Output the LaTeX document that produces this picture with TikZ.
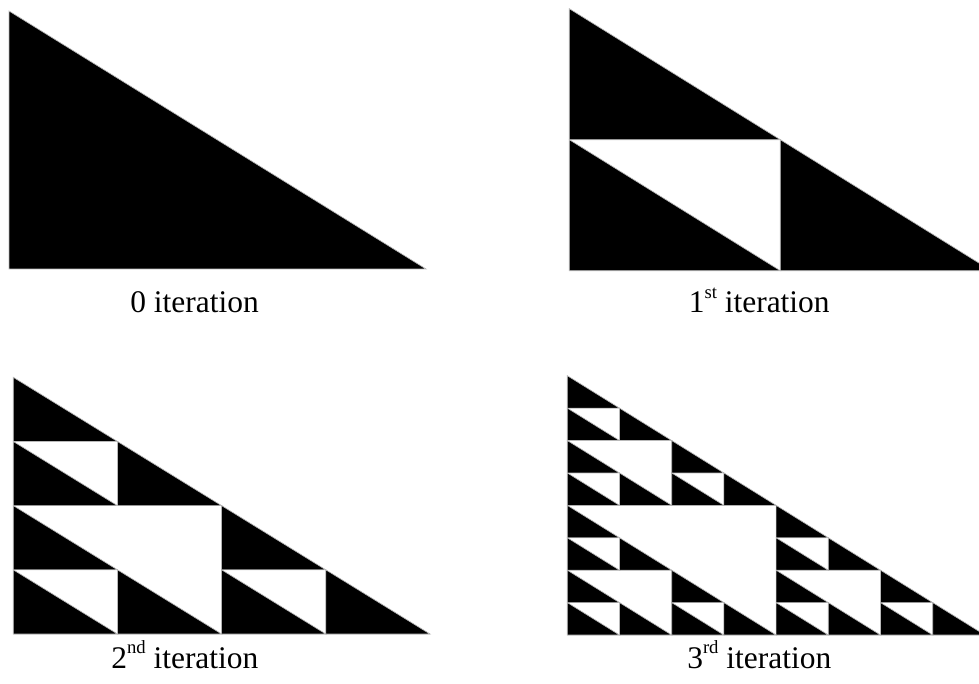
\documentclass[tikz,border=0pt]{standalone}
\usepackage{fontspec}
\setmainfont{Liberation Serif}

\newcommand\ordsup[1]{\raisebox{11pt}{\fontsize{14}{14}\selectfont #1}}

% level, left, bottom, width, height
\newcommand\sierpinski[5]{%
  \pgfmathtruncatemacro\cells{2^(#1)}%
  \pgfmathtruncatemacro\last{\cells-1}%
  \foreach \i in {0,...,\last}{
    \foreach \j in {0,...,\last}{
      \pgfmathtruncatemacro\overlap{mod(\i,2)*mod(\j,2)+mod(floor(\i/2),2)*mod(floor(\j/2),2)+mod(floor(\i/4),2)*mod(floor(\j/4),2)}
      \ifnum\numexpr\i+\j\relax<\cells\relax
        \ifnum\overlap=0
          \filldraw[tri] ({#2+\i*#4/\cells},{#3-\j*#5/\cells})
            -- ({#2+\i*#4/\cells},{#3-(\j+1)*#5/\cells})
            -- ({#2+(\i+1)*#4/\cells},{#3-\j*#5/\cells}) -- cycle;
        \fi
      \fi
    }
  }
}

\tikzset{
  tri/.style={fill=black, draw=gray!55, line width=0.5pt, line join=miter},
  lab/.style={font=\fontsize{23.6}{28}\selectfont, inner sep=0pt, anchor=base west}
}

\begin{document}
\begin{tikzpicture}[x=0.75pt, y=-0.75pt]

  \useasboundingbox (0,0) rectangle (979,684);
  \clip (0,0) rectangle (979,684);

  \sierpinski{0}{9}{269}{417}{258}
  \sierpinski{1}{569.3}{270.7}{422}{262}
  \sierpinski{2}{13.3}{634}{416.7}{256.7}
  \sierpinski{3}{567.3}{635}{417.6}{259.3}

  \node[lab] (lab0) at (130,313) {0 iteration};
  \node[lab] (lab1) at (688.5,313) {1\ordsup{st} iteration};
  \node[lab] (lab2) at (111,668) {2\ordsup{nd} iteration};
  \node[lab] (lab3) at (687,668) {3\ordsup{rd} iteration};

\end{tikzpicture}
\end{document}
